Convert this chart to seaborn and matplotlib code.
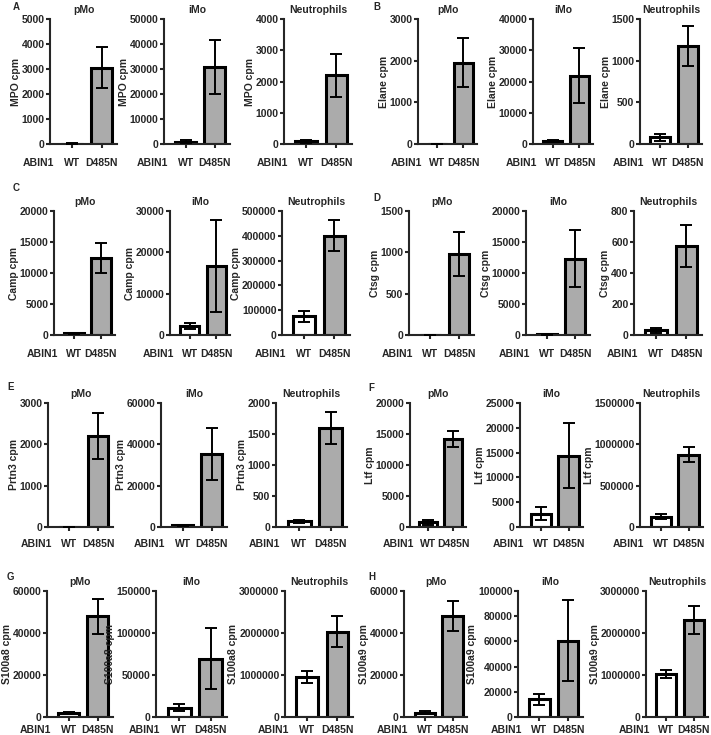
import numpy as np
import pandas as pd
import matplotlib
matplotlib.use('Agg')
import matplotlib.pyplot as plt
import seaborn as sns

genotypes = ['WT', 'D485N']
cell_types = ['pMo', 'iMo', 'Neutrophils']
genes = ['MPO', 'Elane', 'Camp', 'Ctsg', 'Prtn3', 'Ltf', 'S100a8', 'S100a9']
panel_letters = ['A', 'B', 'C', 'D', 'E', 'F', 'G', 'H']
group_label = 'ABIN1'

# mean cpm as [WT, D485N] for pMo, iMo, Neutrophils
mpo_mean = [[20, 3060], [1000, 31000], [85, 2200]]
elane_mean = [[5, 1955], [900, 21900], [80, 1172]]
camp_mean = [[300, 12370], [2260, 16700], [74700, 401000]]
ctsg_mean = [[3, 980], [100, 12310], [32, 576]]
prtn3_mean = [[5, 2205], [800, 35400], [91, 1597]]
ltf_mean = [[750, 14190], [2690, 14380], [124000, 872000]]
s100a8_mean = [[1900, 48070], [11140, 69640], [955000, 2029000]]
s100a9_mean = [[2070, 48070], [14060, 60480], [1018000, 2307000]]

# SEM, same layout
mpo_sem = [[10, 830], [600, 10800], [50, 680]]
elane_sem = [[3, 580], [350, 8800], [38, 240]]
camp_sem = [[100, 2420], [700, 11100], [22000, 64000]]
ctsg_sem = [[2, 270], [60, 4600], [16, 135]]
prtn3_sem = [[3, 560], [300, 12500], [20, 265]]
ltf_sem = [[430, 1300], [1250, 6500], [28000, 90000]]
s100a8_sem = [[500, 8350], [4400, 36000], [150000, 366000]]
s100a9_sem = [[800, 7200], [4500, 32200], [100000, 326000]]

# y axis range and tick step for pMo, iMo, Neutrophils
mpo_ymax, mpo_step = [5000, 50000, 4000], [1000, 10000, 1000]
elane_ymax, elane_step = [3000, 40000, 1500], [1000, 10000, 500]
camp_ymax, camp_step = [20000, 30000, 500000], [5000, 10000, 100000]
ctsg_ymax, ctsg_step = [1500, 20000, 800], [500, 5000, 200]
prtn3_ymax, prtn3_step = [3000, 60000, 2000], [1000, 20000, 500]
ltf_ymax, ltf_step = [20000, 25000, 1500000], [5000, 5000, 500000]
s100a8_ymax, s100a8_step = [60000, 150000, 3000000], [20000, 50000, 1000000]
s100a9_ymax, s100a9_step = [60000, 100000, 3000000], [20000, 20000, 1000000]

means = dict(zip(genes, [mpo_mean, elane_mean, camp_mean, ctsg_mean,
                         prtn3_mean, ltf_mean, s100a8_mean, s100a9_mean]))
sems = dict(zip(genes, [mpo_sem, elane_sem, camp_sem, ctsg_sem,
                        prtn3_sem, ltf_sem, s100a8_sem, s100a9_sem]))
ymaxs = dict(zip(genes, [mpo_ymax, elane_ymax, camp_ymax, ctsg_ymax,
                         prtn3_ymax, ltf_ymax, s100a8_ymax, s100a9_ymax]))
steps = dict(zip(genes, [mpo_step, elane_step, camp_step, ctsg_step,
                         prtn3_step, ltf_step, s100a8_step, s100a9_step]))

# layout in pixels of a 711x735 canvas
W, H = 711, 735
row_top = [19, 211, 403, 591]
row_zero = [144, 335, 527, 717]
xlabel_pad = [7.3, 6.8, 5.7, 2.8]
axis_left = [[50, 164, 284], [418, 533, 640], [54, 170, 282], [409, 526, 634],
             [48, 161, 276], [410, 520, 640], [47, 156, 285], [404, 518, 646]]
axis_right = [[117, 230, 352], [477, 593, 702], [115, 230, 350], [474, 590, 702],
              [113, 227, 347], [466, 583, 703], [113, 227, 353], [467, 583, 708]]
letter_pos = [(13, 2), (373, 2), (13, 183), (373, 193),
              (7, 382), (368, 383), (7, 572), (368, 572)]

bar_colors = dict(zip(genotypes, ['white', '#ababab']))
fs = 7.5

sns.set_style('ticks')
plt.rcParams['font.family'] = ['Liberation Sans', 'DejaVu Sans']
plt.rcParams['font.weight'] = 'bold'
plt.rcParams['axes.labelweight'] = 'bold'
plt.rcParams['axes.titleweight'] = 'bold'
plt.rcParams['font.size'] = fs

fig = plt.figure(figsize=(W / 100, H / 100), dpi=100)

for i, gene in enumerate(genes):
    row = i // 2
    top, zero = row_top[row], row_zero[row]
    for j, cell in enumerate(cell_types):
        left, right = axis_left[i][j], axis_right[i][j]
        ax = fig.add_axes([left / W, 1 - zero / H, (right - left) / W, (zero - top) / H])
        df = pd.DataFrame({'genotype': genotypes, 'cpm': means[gene][j]})
        sns.barplot(data=df, x='genotype', y='cpm', hue='genotype', palette=bar_colors,
                    saturation=1, width=0.72, edgecolor='black', linewidth=2.2,
                    errorbar=None, legend=False, ax=ax)
        ax.errorbar(range(len(genotypes)), means[gene][j], yerr=sems[gene][j], fmt='none',
                    ecolor='black', elinewidth=1.4, capsize=4, capthick=1.4, zorder=3)
        ax.set_xlim(-0.74, 1.52)
        ymax, step = ymaxs[gene][j], steps[gene][j]
        ax.set_ylim(0, ymax)
        ticks = np.arange(0, ymax + step / 2, step)
        ax.set_yticks(ticks)
        ax.set_yticklabels([f'{int(t)}' for t in ticks], fontweight='bold', fontsize=fs)
        ax.set_xticks(range(len(genotypes)))
        ax.set_xticklabels(genotypes, fontweight='bold', fontsize=fs)
        ax.set_xlabel('')
        ax.set_ylabel(f'{gene} cpm', labelpad=0.5, fontweight='bold', fontsize=fs)
        ax.set_title(cell, pad=4.5, fontweight='bold', fontsize=fs)
        sns.despine(ax=ax)
        for side in ['left', 'bottom']:
            ax.spines[side].set_linewidth(1.5)
        ax.tick_params(axis='both', width=1.5, length=3)
        ax.tick_params(axis='y', pad=1)
        ax.tick_params(axis='x', pad=xlabel_pad[row])
        ax.annotate(group_label, xy=(0, 0), xycoords='axes fraction',
                    xytext=(3, -(3 + xlabel_pad[row])), textcoords='offset points',
                    ha='right', va='top', fontsize=fs, fontweight='bold')
    lx, ly = letter_pos[i]
    fig.text(lx / W, 1 - ly / H, panel_letters[i], ha='left', va='top',
             fontsize=7, fontweight='bold')

fig.savefig('out.png', dpi=100)
